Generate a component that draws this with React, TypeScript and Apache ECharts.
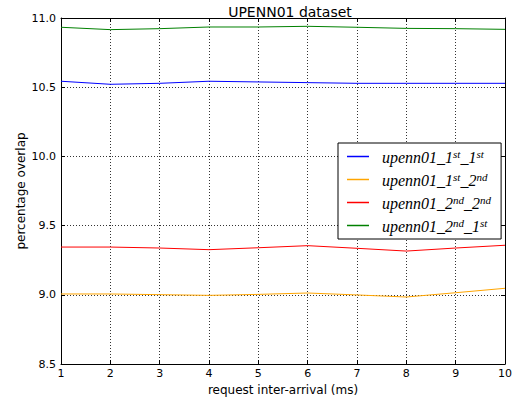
import React, { useEffect, useRef } from "react";
import * as echarts from "echarts";

const xValues = [1, 2, 3, 4, 5, 6, 7, 8, 9, 10];
const seriesNames = ["upenn01_1st_1st", "upenn01_1st_2nd", "upenn01_2nd_2nd", "upenn01_2nd_1st"];
const blueValues = [10.543, 10.521, 10.528, 10.543, 10.538, 10.533, 10.528, 10.528, 10.528, 10.528];
const orangeValues = [9.006, 9.006, 9.001, 8.996, 9.003, 9.013, 8.999, 8.984, 9.015, 9.047];
const redValues = [9.345, 9.345, 9.338, 9.326, 9.34, 9.355, 9.336, 9.316, 9.338, 9.358];
const greenValues = [10.933, 10.916, 10.923, 10.935, 10.935, 10.94, 10.933, 10.925, 10.923, 10.918];
const colors = ["#0000ff", "#ffa500", "#ff0000", "#008000"];
const legendParts: Record<string, [string, string, string, string]> = {
  "upenn01_1st_1st": ["1", "st", "1", "st"],
  "upenn01_1st_2nd": ["1", "st", "2", "nd"],
  "upenn01_2nd_2nd": ["2", "nd", "2", "nd"],
  "upenn01_2nd_1st": ["2", "nd", "1", "st"],
};

const font = "DejaVu Sans";
const mathFont = "Liberation Serif";

export default function App() {
  const ref = useRef<HTMLDivElement>(null);
  useEffect(() => {
    if (!ref.current) return;
    const chart = echarts.init(ref.current, null, { renderer: "svg" });
    const allValues = [blueValues, orangeValues, redValues, greenValues];
    const gridLine = { show: true, lineStyle: { color: "#333", type: [1, 2] as any, width: 1 } };
    const xAxisBase = {
      type: "value" as const,
      min: 1,
      max: 10,
      interval: 1,
      axisLine: { show: true, onZero: false, lineStyle: { color: "#000", width: 1 } },
      axisTick: { show: true, inside: true, length: 4, lineStyle: { color: "#000" } },
    };
    const yAxisBase = {
      type: "value" as const,
      min: 8.5,
      max: 11,
      interval: 0.5,
      axisLine: { show: true, onZero: false, lineStyle: { color: "#000", width: 1 } },
      axisTick: { show: true, inside: true, length: 4, lineStyle: { color: "#000" } },
    };
    chart.setOption({
      animation: false,
      backgroundColor: "#fff",
      title: {
        text: "UPENN01 dataset",
        left: 285,
        textAlign: "center",
        top: 0,
        textStyle: { fontFamily: font, fontSize: 14, fontWeight: "normal", color: "#000" },
      },
      grid: { left: 61, right: 6, top: 18, bottom: 41 },
      xAxis: [
        {
          ...xAxisBase,
          position: "bottom",
          name: "request inter-arrival (ms)",
          nameLocation: "middle",
          nameGap: 20,
          nameMoveOverlap: false,
          nameTextStyle: { fontFamily: font, fontSize: 12, color: "#000" },
          axisLabel: { fontFamily: font, fontSize: 11, color: "#000", margin: 4 },
          splitLine: gridLine,
        },
        {
          ...xAxisBase,
          position: "top",
          axisLabel: { show: false },
          splitLine: { show: false },
        },
      ],
      yAxis: [
        {
          ...yAxisBase,
          position: "left",
          name: "percentage overlap",
          nameLocation: "middle",
          nameGap: 34,
          nameMoveOverlap: false,
          nameTextStyle: { fontFamily: font, fontSize: 12, color: "#000" },
          axisLabel: {
            fontFamily: font,
            fontSize: 11,
            color: "#000",
            margin: 5,
            formatter: (v: number) => v.toFixed(1),
          },
          splitLine: gridLine,
        },
        {
          ...yAxisBase,
          position: "right",
          axisLabel: { show: false },
          splitLine: { show: false },
        },
      ],
      legend: {
        orient: "vertical",
        left: 338,
        top: 143,
        padding: [5, 10, 5, 9],
        itemGap: 6,
        itemWidth: 22,
        itemHeight: 1.5,
        icon: "rect",
        borderColor: "#000",
        borderWidth: 1,
        backgroundColor: "#fff",
        data: seriesNames,
        formatter: (name: string) => {
          const p = legendParts[name];
          return `{b|upenn01_${p[0]}}{s|${p[1]}}{b|_${p[2]}}{s|${p[3]}}`;
        },
        textStyle: {
          padding: [0, 0, 0, 8],
          rich: {
            b: { fontFamily: mathFont, fontStyle: "italic", fontSize: 16, color: "#000", lineHeight: 17, verticalAlign: "bottom" },
            s: { fontFamily: mathFont, fontStyle: "italic", fontSize: 11, color: "#000", lineHeight: 17, verticalAlign: "top" },
          },
        },
      },
      series: seriesNames.map((name, i) => ({
        name,
        type: "line",
        data: xValues.map((x, j) => [x, allValues[i][j]]),
        showSymbol: false,
        symbol: "none",
        lineStyle: { color: colors[i], width: 1 },
        itemStyle: { color: colors[i] },
        xAxisIndex: 0,
        yAxisIndex: 0,
      })),
    });
    return () => chart.dispose();
  }, []);
  return <div ref={ref} style={{ width: 515, height: 405, position: "absolute", left: 0, top: 0 }} />;
}
